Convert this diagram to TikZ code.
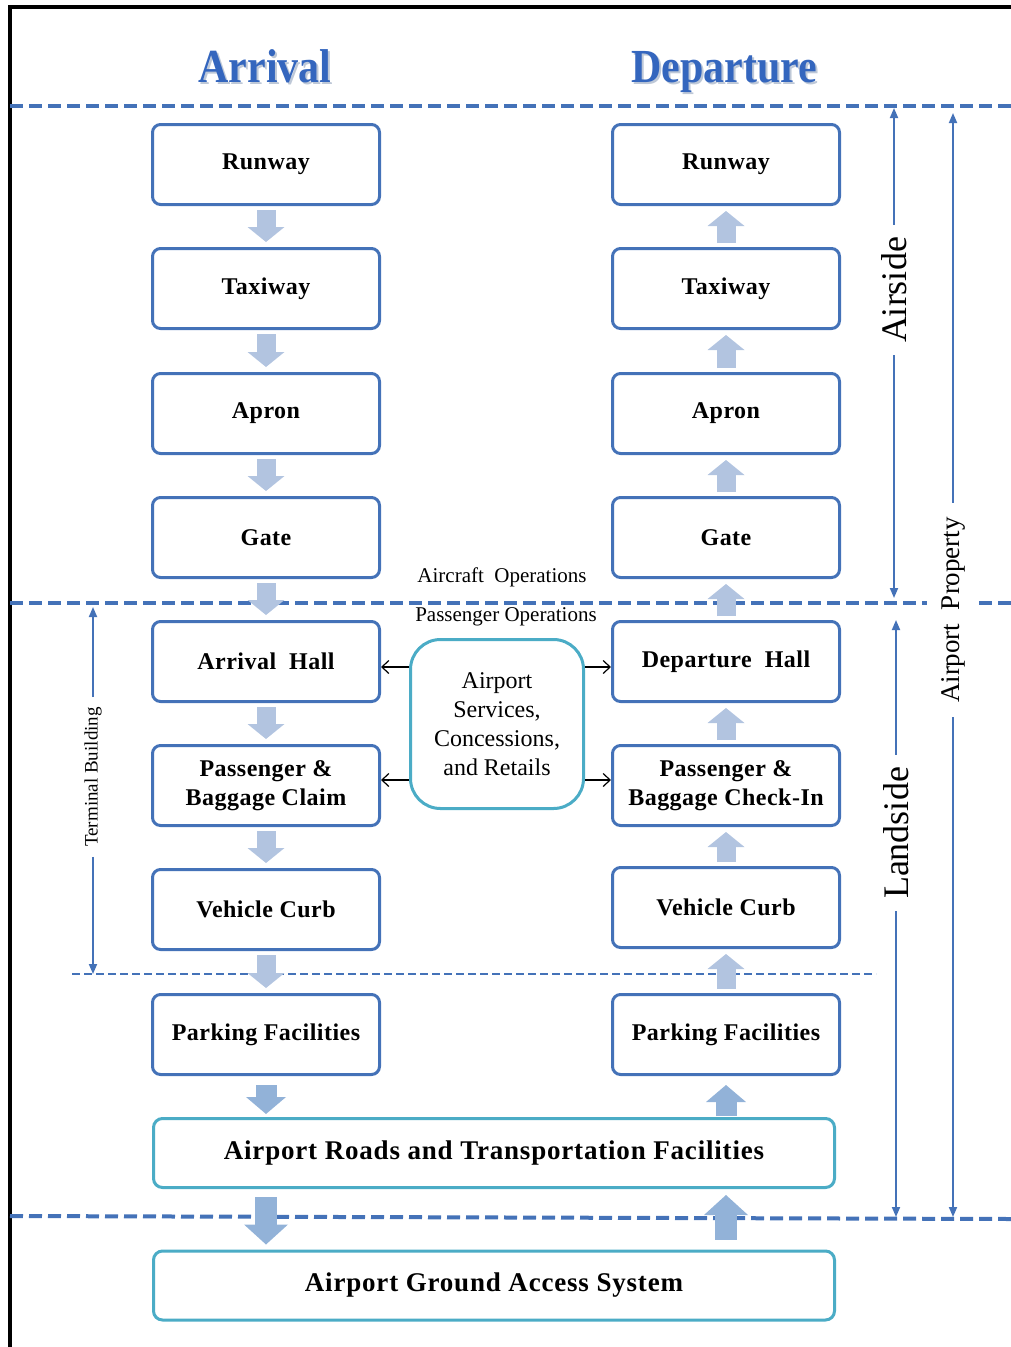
\documentclass[tikz,border=0pt]{standalone}
\usepackage{fontspec}
\setmainfont{Liberation Serif}
\newfontfamily\boxfont[LetterSpace=2]{Liberation Serif}
\newfontfamily\widefont[LetterSpace=3]{Liberation Serif}
\usetikzlibrary{arrows.meta,calc}

\definecolor{frameblue}{RGB}{68,114,184}
\definecolor{svcteal}{RGB}{75,172,198}
\definecolor{blkarrow}{RGB}{178,196,224}
\definecolor{blkarrowdeep}{RGB}{146,178,216}
\definecolor{titleblue}{RGB}{52,102,190}
\definecolor{titleshade}{RGB}{190,200,215}

\tikzset{
  stage/.style={draw=frameblue, line width=3pt, rounded corners=8pt, fill=white,
    minimum width=227pt, minimum height=80pt, inner sep=0pt, align=center,
    font=\boxfont\bfseries\fontsize{24}{29}\selectfont},
  widestage/.style={draw=svcteal, line width=3pt, rounded corners=9pt, fill=white,
    minimum width=681pt, minimum height=69pt, inner sep=0pt, align=center,
    font=\widefont\bfseries\fontsize{27}{30}\selectfont},
  svcbox/.style={draw=svcteal, line width=3pt, rounded corners=30pt, fill=white,
    minimum width=173pt, minimum height=169pt, inner sep=0pt, align=center,
    font=\fontsize{24}{29}\selectfont},
  title/.style={anchor=base, text=titleblue, font=\bfseries\fontsize{42}{48}\selectfont},
  titleshadow/.style={anchor=base, text=titleshade, font=\bfseries\fontsize{42}{48}\selectfont},
  zone/.style={font=\fontsize{21}{24}\selectfont},
  dimlabel/.style={rotate=90, fill=white, inner sep=12pt},
  dimline/.style={draw=frameblue, line width=1.8pt, -{Triangle[length=10pt,width=8pt]}},
  thickdash/.style={draw=frameblue, line width=4pt, dash pattern=on 13pt off 6pt},
  thindash/.style={draw=frameblue, line width=2pt, dash pattern=on 8pt off 4pt},
  blk/.style={draw=blkarrow, line width=19pt,
    -{Triangle[length=15pt,width=37pt,line width=0pt]}, shorten <=4pt, shorten >=5pt},
  blkbig/.style={draw=blkarrowdeep, line width=21pt,
    -{Triangle[length=17pt,width=40pt,line width=0pt]}},
  blkhuge/.style={draw=blkarrowdeep, line width=22pt,
    -{Triangle[length=20pt,width=44pt,line width=0pt]}},
  link/.style={draw=black, line width=1.2pt, -{Straight Barb[length=7pt,width=13pt]}}
}

\begin{document}
\begin{tikzpicture}[x=1pt,y=-1pt]
\useasboundingbox (0,0) rectangle (1011,1347);

% outer frame (top and left edges)
\draw[line width=4pt] (10,1347) -- (10,7) -- (1011,7);

% column titles with a soft drop shadow
\node[titleshadow] (tArrS) at (267,84) {\scalebox{1}[1.13]{Arrival}};
\node[titleshadow] (tDepS) at (726,84) {\scalebox{1}[1.13]{Departure}};
\node[title] (tArr) at (265,82) {\scalebox{1}[1.13]{Arrival}};
\node[title] (tDep) at (724,82) {\scalebox{1}[1.13]{Departure}};

% zone separators
\draw[thickdash] (10,106) -- (1011,106);
\draw[thickdash] (10,603) -- (1011,603);
\draw[thickdash] (10,1216) -- (1011,1219);
\draw[thindash] (72,974) -- (876,974);

% arrival column
\node[stage] (rwA)  at (266,164.5) {Runway};
\node[stage] (txA)  at (266,288.5) {Taxiway};
\node[stage] (apA)  at (266,413.5) {Apron};
\node[stage] (gtA)  at (266,537.5) {Gate};
\node[stage] (hlA)  at (266,661.5) {Arrival\ \ Hall};
\node[stage] (pbA)  at (266,785.5) {Passenger \&\\Baggage Claim};
\node[stage] (vcA)  at (266,909.5) {Vehicle Curb};
\node[stage] (pkA)  at (266,1034.5) {Parking Facilities};

% departure column
\node[stage] (rwD)  at (726,164.5) {Runway};
\node[stage] (txD)  at (726,288.5) {Taxiway};
\node[stage] (apD)  at (726,413.5) {Apron};
\node[stage] (gtD)  at (726,537.5) {Gate};
\node[stage] (hlD)  at (726,661.5) {Departure\ \ Hall};
\node[stage] (pbD)  at (726,785.5) {Passenger \&\\Baggage Check-In};
\node[stage] (vcD)  at (726,907.5) {Vehicle Curb};
\node[stage] (pkD)  at (726,1034.5) {Parking Facilities};

% shared landside systems
\node[widestage] (roads)  at (494,1153) {Airport Roads and Transportation Facilities};
\node[widestage] (ground) at (494,1285.5) {Airport Ground Access System};

% terminal services
\node[svcbox] (svc) at (497,724) {Airport\\Services,\\Concessions,\\and Retails};

% operation zone labels
\node[zone] (airOps) at (502,577) {Aircraft\ \ Operations};
\node[zone] (paxOps) at (506,617) {Passenger Operations};

% arrival flow
\draw[blk] (rwA) -- (txA);
\draw[blk] (txA) -- (apA);
\draw[blk] (apA) -- (gtA);
\draw[blk] (gtA) -- (hlA);
\draw[blk] (hlA) -- (pbA);
\draw[blk] (pbA) -- (vcA);
\draw[blk] (vcA) -- (pkA);

% departure flow
\draw[blk] (txD) -- (rwD);
\draw[blk] (apD) -- (txD);
\draw[blk] (gtD) -- (apD);
\draw[blk] (hlD) -- (gtD);
\draw[blk] (pbD) -- (hlD);
\draw[blk] (vcD) -- (pbD);
\draw[blk] (pkD) -- (vcD);

% landside access flow
\draw[blkbig, shorten <=9pt, shorten >=3pt] (pkA.south) -- (pkA.south |- roads.north);
\draw[blkbig, shorten <=1pt, shorten >=9pt] (pkD.south |- roads.north) -- (pkD.south);
\draw[blkhuge, shorten <=8pt, shorten >=5pt] (roads.south -| pkA.south) -- (ground.north -| pkA.south);
\draw[blkhuge, shorten <=10pt, shorten >=6pt] (ground.north -| pkD.south) -- (roads.south -| pkD.south);

% services feeding both halls
\coordinate (svcHi) at ([yshift=-5.5pt]hlA.east);
\coordinate (svcLo) at ([yshift=5.5pt]pbA.east);
\draw[link] (svcHi -| svc.west) -- (svcHi -| hlA.east);
\draw[link] (svcLo -| svc.west) -- (svcLo -| pbA.east);
\draw[link] (svcHi -| svc.east) -- (svcHi -| hlD.west);
\draw[link] (svcLo -| svc.east) -- (svcLo -| pbD.west);

% extent markers
\node[dimlabel, font=\fontsize{36}{36}\selectfont] (airside) at (894,290) {Airside};
\coordinate (asTop) at (896,108);
\coordinate (asBot) at (896,598);
\draw[dimline] (airside.east) -- (airside.east |- asTop);
\draw[dimline] (airside.west) -- (airside.west |- asBot);

\node[dimlabel, font=\fontsize{36}{36}\selectfont] (landside) at (896,833) {Landside};
\coordinate (lsTop) at (898,620);
\coordinate (lsBot) at (898,1217);
\draw[dimline] (landside.east) -- (landside.east |- lsTop);
\draw[dimline] (landside.west) -- (landside.west |- lsBot);

\node[dimlabel, inner sep=14pt, font=\fontsize{27}{27}\selectfont] (property) at (953,610) {Airport\ \ Property};
\coordinate (apTop) at (955,113);
\coordinate (apBot) at (955,1217);
\draw[dimline] (property.east) -- (property.east |- apTop);
\draw[dimline] (property.west) -- (property.west |- apBot);

\node[dimlabel, inner sep=10pt, font=\fontsize{19}{19}\selectfont] (terminal) at (93,777) {Terminal Building};
\coordinate (tbTop) at (94,607);
\coordinate (tbBot) at (94,974);
\draw[dimline] (terminal.east) -- (terminal.east |- tbTop);
\draw[dimline] (terminal.west) -- (terminal.west |- tbBot);

\end{tikzpicture}
\end{document}
